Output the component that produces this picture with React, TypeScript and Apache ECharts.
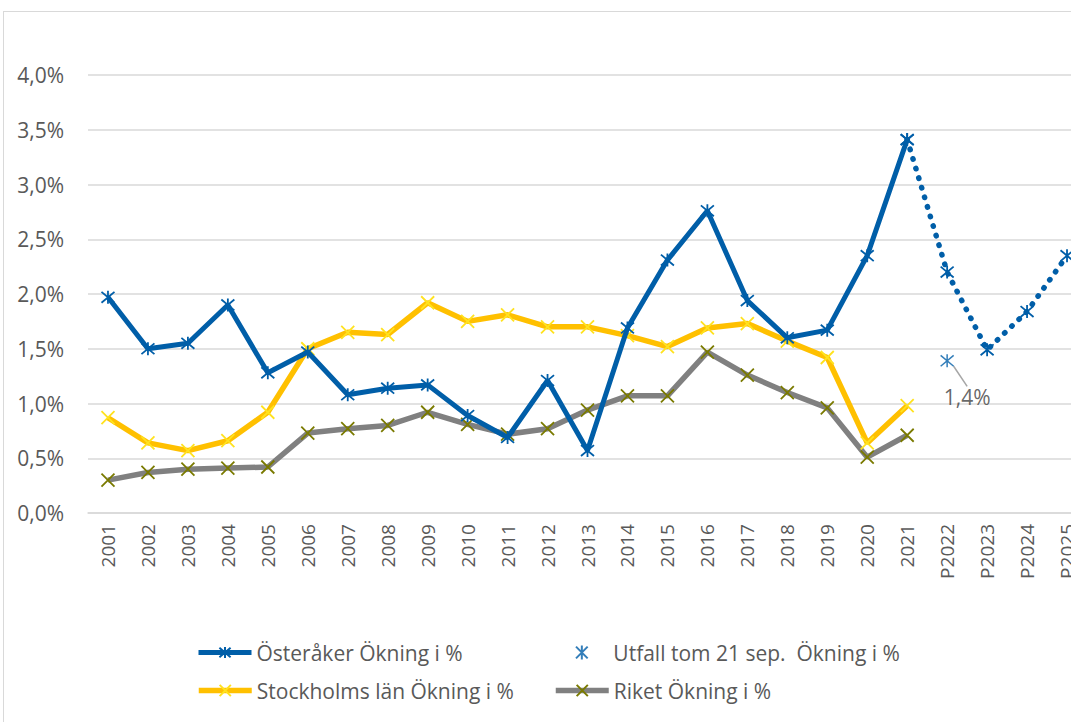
import React, { useEffect, useRef } from "react";
import * as echarts from "echarts";

const categories = [
  "2001", "2002", "2003", "2004", "2005", "2006", "2007", "2008", "2009", "2010",
  "2011", "2012", "2013", "2014", "2015", "2016", "2017", "2018", "2019", "2020",
  "2021", "P2022", "P2023", "P2024", "P2025",
];

const osterakerValues = [
  1.97, 1.5, 1.55, 1.9, 1.28, 1.47, 1.08, 1.14, 1.17, 0.89,
  0.69, 1.21, 0.57, 1.69, 2.31, 2.76, 1.94, 1.6, 1.67, 2.35, 3.41,
];
// Prognosis from 2021 (index 20) to P2025
const prognosValues = [3.41, 2.2, 1.49, 1.84, 2.35];
const utfallCategory = "P2022";
const utfallValue = 1.39;
const stockholmValues = [
  0.87, 0.64, 0.57, 0.66, 0.92, 1.5, 1.65, 1.63, 1.92, 1.75,
  1.81, 1.7, 1.7, 1.62, 1.52, 1.69, 1.73, 1.57, 1.42, 0.64, 0.98,
];
const riketValues = [
  0.3, 0.37, 0.4, 0.41, 0.42, 0.73, 0.77, 0.8, 0.92, 0.81,
  0.72, 0.77, 0.94, 1.07, 1.07, 1.47, 1.26, 1.1, 0.96, 0.51, 0.71,
];
const yTicks = { min: 0, max: 4, interval: 0.5 };

const S_OST = "Österåker Ökning i %";
const S_UTF = "Utfall tom 21 sep.  Ökning i %";
const S_STO = "Stockholms län Ökning i %";
const S_RIK = "Riket Ökning i %";

const STAR = "path://M0,0L10,10M10,0L0,10M5,-1L5,11";
const CROSS = "path://M0,0L10,10M10,0L0,10";

const BLUE = "#005EA8";
const YELLOW = "#FFC000";
const YELLOW_MK = "#FFE21F";
const GRAY = "#808080";
const OLIVE = "#7A7A00";
const TEXT = "#595959";
const FONT = "'Open Sans', Lato, sans-serif";

function fmt(v: number) {
  return v.toFixed(1).replace(".", ",") + "%";
}

export default function App() {
  const ref = useRef<HTMLDivElement>(null);
  useEffect(() => {
    if (!ref.current) return;
    const chart = echarts.init(ref.current, null, { renderer: "svg" });
    const prognosData = categories.map((_, i) =>
      i >= 20 ? prognosValues[i - 20] : null
    );
    const utfIdx = categories.indexOf(utfallCategory);
    const legendBase = {
      itemWidth: 53,
      itemHeight: 14,
      padding: 0,
      textStyle: { color: TEXT, fontSize: 21, fontFamily: FONT },
      lineStyle: { width: "inherit" },
      selectedMode: false,
    };
    chart.setOption({
      animation: false,
      textStyle: { fontFamily: FONT },
      grid: { left: 84, right: 27, top: 63, height: 438 },
      legend: [
        { ...legendBase, data: [S_OST], left: 192, top: 630 },
        { ...legendBase, data: [S_UTF], left: 571, top: 630 },
        { ...legendBase, data: [S_STO], left: 192, top: 668 },
        { ...legendBase, data: [S_RIK], left: 549, top: 668 },
      ],
      xAxis: {
        type: "category",
        data: categories,
        boundaryGap: true,
        axisLine: { show: true, lineStyle: { color: "#d9d9d9", width: 1.5 } },
        axisTick: { show: false },
        axisLabel: {
          rotate: 90,
          color: TEXT,
          fontSize: 19,
          fontFamily: FONT,
          margin: 11,
          interval: 0,
        },
      },
      yAxis: {
        type: "value",
        min: yTicks.min,
        max: yTicks.max,
        interval: yTicks.interval,
        axisLine: { show: false },
        axisTick: { show: false },
        splitLine: { lineStyle: { color: "#d9d9d9", width: 1.5 } },
        axisLabel: {
          color: TEXT,
          fontSize: 21,
          fontFamily: FONT,
          margin: 24,
          formatter: (v: number) => fmt(v),
        },
      },
      series: [
        {
          name: S_OST,
          type: "line",
          data: osterakerValues,
          symbol: STAR,
          symbolSize: 13,
          showAllSymbol: true,
          lineStyle: { color: BLUE, width: 5 },
          itemStyle: { color: BLUE, borderColor: BLUE, borderWidth: 1.8 },
          z: 4,
        },
        {
          name: "Prognos",
          type: "line",
          data: prognosData,
          symbol: STAR,
          symbolSize: 13,
          lineStyle: { color: BLUE, width: 5.5, type: [0.5, 9.5], cap: "round" },
          itemStyle: { color: BLUE, borderColor: BLUE, borderWidth: 1.8 },
          z: 4,
        },
        {
          name: S_UTF,
          type: "scatter",
          data: categories.map((_, i) => (i === utfIdx ? utfallValue : null)),
          symbol: STAR,
          symbolSize: 13,
          itemStyle: { color: BLUE, borderColor: BLUE, borderWidth: 1.5 },
          label: {
            show: true,
            formatter: (p: any) => fmt(Math.round(p.value * 10) / 10),
            color: "#404040",
            fontSize: 21,
            fontFamily: FONT,
            position: "inside",
          },
          labelLayout: { dx: 20, dy: 36 },
          labelLine: { show: true, lineStyle: { color: "#a6a6a6", width: 1.5 } },
          z: 5,
        },
        {
          name: S_STO,
          type: "line",
          data: stockholmValues,
          symbol: CROSS,
          symbolSize: 13,
          lineStyle: { color: YELLOW, width: 5.5 },
          itemStyle: { color: YELLOW_MK, borderColor: YELLOW_MK, borderWidth: 1.8 },
          z: 3,
        },
        {
          name: S_RIK,
          type: "line",
          data: riketValues,
          symbol: CROSS,
          symbolSize: 13,
          lineStyle: { color: GRAY, width: 5.5 },
          itemStyle: { color: OLIVE, borderColor: OLIVE, borderWidth: 1.8 },
          z: 3,
        },
      ],
    });
    return () => chart.dispose();
  }, []);

  return (
    <div
      style={{
        position: "absolute",
        left: 0,
        top: 0,
        width: 1071,
        height: 722,
        overflow: "hidden",
        background: "#fff",
      }}
    >
      <div
        style={{
          position: "absolute",
          left: 3,
          top: 11,
          width: 1110,
          height: 730,
          border: "1px solid #d9d9d9",
        }}
      >
        <div ref={ref} style={{ width: 1110, height: 730 }} />
      </div>
    </div>
  );
}
